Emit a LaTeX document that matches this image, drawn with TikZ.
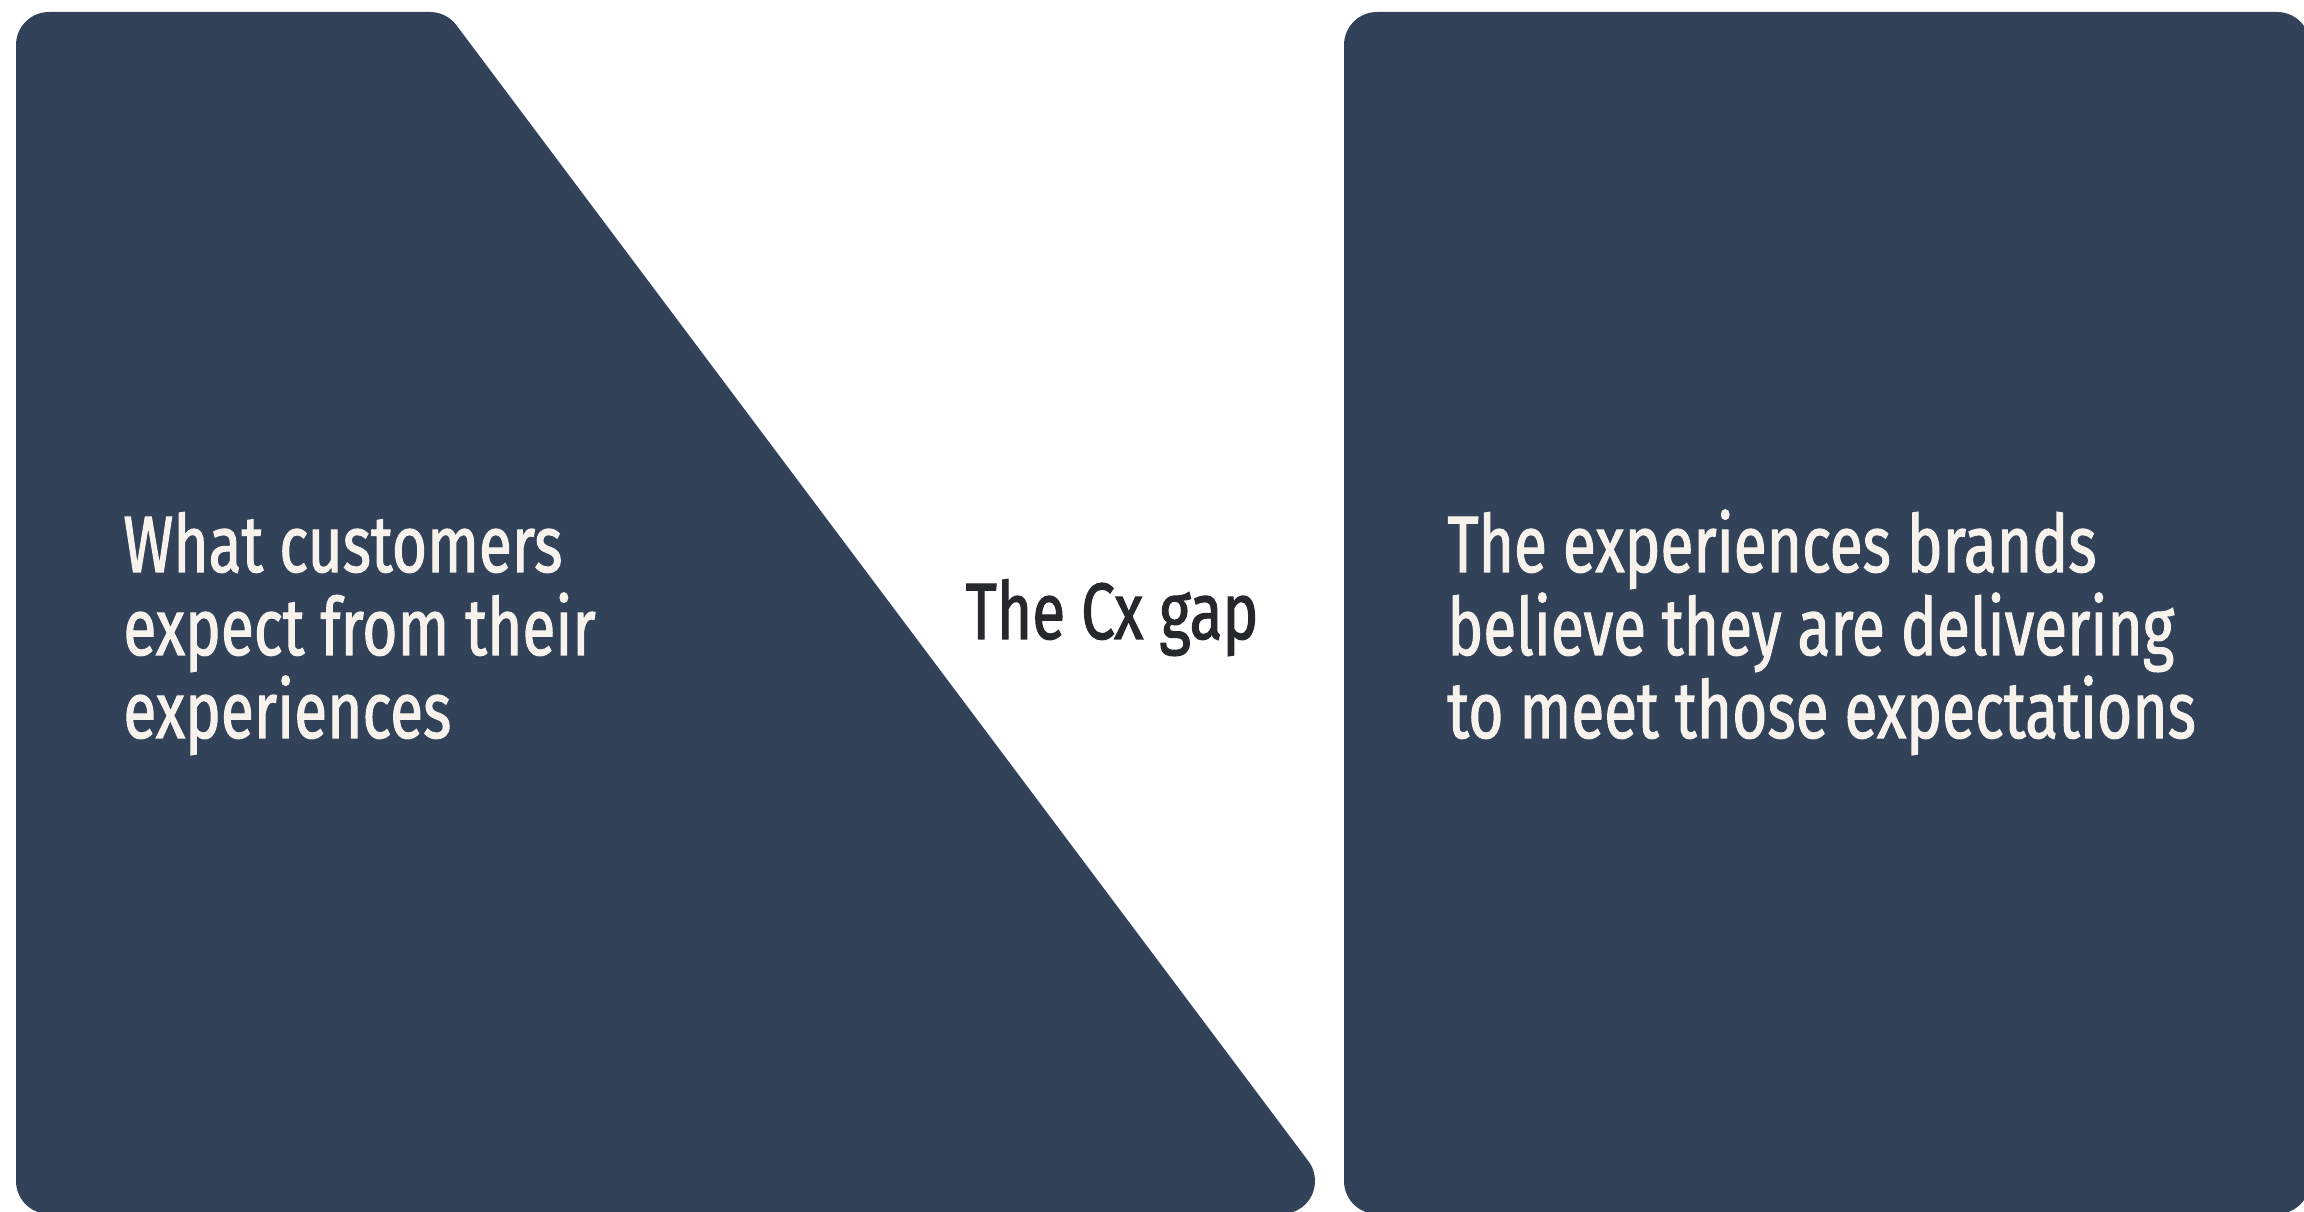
\documentclass[tikz,border=0pt]{standalone}
\usepackage{fontspec}
\newfontfamily\panelfont[FakeStretch=0.755,FakeBold=1.3]{Fira Sans}
\definecolor{panel}{RGB}{50,66,89}
\definecolor{cream}{RGB}{248,242,236}
\definecolor{ink}{RGB}{38,40,44}
\begin{document}
\begin{tikzpicture}[x=0.5pt,y=0.5pt,
  panelfill/.style={fill=panel},
  paneltext/.style={anchor=base west, inner sep=0pt, align=left, text=cream,
    font=\panelfont\fontsize{40}{41.5}\selectfont},
  gaptext/.style={anchor=base, inner sep=0pt, text=ink,
    font=\panelfont\fontsize{40}{41.5}\selectfont}]
\useasboundingbox (0,0) rectangle (2304,1211);

% left panel: slanted right side, rounded corners
\fill[panelfill] (16,30) -- (16,1166)
  arc[start angle=180, end angle=90, radius=33] -- (430,1199)
  arc[start angle=90, end angle=36.87, radius=33] -- (1308.4,49.8)
  arc[start angle=36.87, end angle=-90, radius=33] -- (49,-3)
  arc[start angle=-90, end angle=-180, radius=33] -- cycle;

% right panel
\fill[panelfill, rounded corners=16.5pt] (1344,-3) rectangle (2310,1199);

% multi-line nodes sit on the baseline of their last line
\node[paneltext] (expect) at (123,473) {What customers\\expect from their\\experiences};
\node[gaptext] (gap) at (1112,572) {The Cx gap};
\node[paneltext] (deliver) at (1447,473) {The experiences brands\\believe they are delivering\\to meet those expectations};
\end{tikzpicture}
\end{document}
